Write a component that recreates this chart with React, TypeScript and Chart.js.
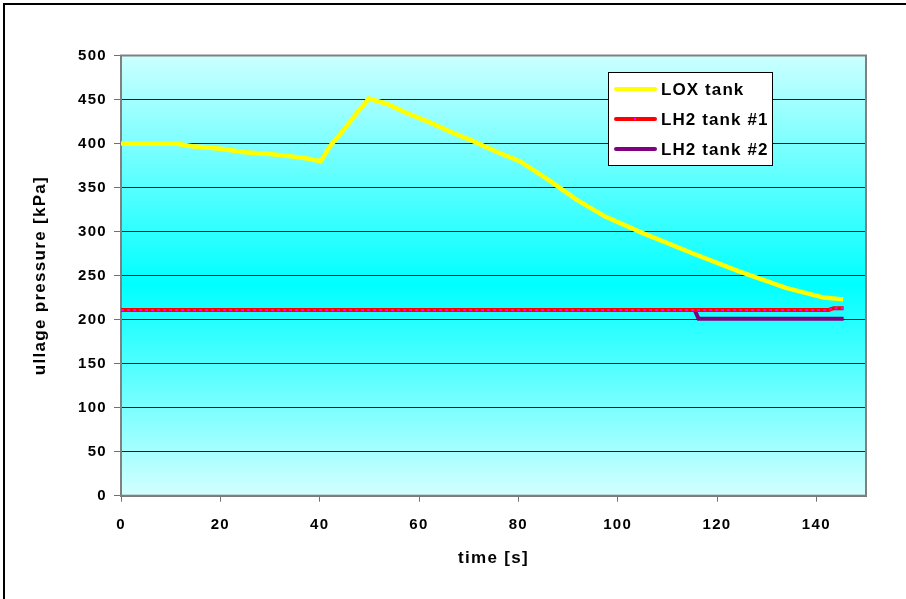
import React, { useEffect, useRef } from 'react';
import { Chart, registerables } from 'chart.js';

Chart.register(...registerables);

// ---- data ----
const loxTime = [0, 11, 14.3, 20.1, 24.9, 30, 33.5, 37.5, 40.2, 42.1, 44.9, 47.8, 49.9, 53.6, 57.4, 62.2, 66.9, 70.8, 75.5, 80.3, 86, 91.8, 97.5, 105.2, 114.8, 124.3, 133.9, 141.5, 145.4];
const loxPressure = [400, 400, 397, 394, 390, 388, 386, 383, 380, 397, 416, 437, 451, 445, 435, 424, 412, 403, 391, 380, 359, 336, 317, 298, 276, 255, 236, 225, 223];

const lh2Tank1Time = [0, 142.5, 143.5, 145.5];
const lh2Tank1Pressure = [211, 211, 213, 213];

const lh2Tank2Time = [0, 115.5, 116.3, 145.5];
const lh2Tank2Pressure = [211, 211, 201, 201];

const xTicks = [0, 20, 40, 60, 80, 100, 120, 140];
const yTicks = [0, 50, 100, 150, 200, 250, 300, 350, 400, 450, 500];

const seriesLabels = ['LOX tank', 'LH2 tank #1', 'LH2 tank #2'];
const seriesColors = ['#ffff00', '#ff0000', '#800080'];
const markerColor = '#ff00ff';

const xTitle = 'time [s]';
const yTitle = 'ullage pressure [kPa]';

const FAMILY = "'Liberation Sans', Arial, sans-serif";
const SPACING = '1.3px';

function toPoints(t: number[], v: number[]) {
  return t.map((x, i) => ({ x, y: v[i] }));
}

const spacingPlugin = {
  id: 'letterSpacing',
  beforeUpdate(chart: any) {
    chart.ctx.letterSpacing = SPACING;
  },
  beforeLayout(chart: any) {
    chart.ctx.letterSpacing = SPACING;
  },
  beforeDraw(chart: any) {
    chart.ctx.letterSpacing = SPACING;
  },
};

const backgroundPlugin = {
  id: 'plotBackground',
  beforeDraw(chart: any) {
    const { ctx, chartArea } = chart;
    const { left, top, right, bottom } = chartArea;
    ctx.save();
    const g = ctx.createLinearGradient(0, top, 0, bottom);
    g.addColorStop(0, '#ccffff');
    g.addColorStop(0.52, '#00ffff');
    g.addColorStop(1, '#d4ffff');
    ctx.fillStyle = g;
    ctx.fillRect(left, top, right - left, bottom - top);
    ctx.restore();
  },
  beforeDatasetsDraw(chart: any) {
    const { ctx, chartArea } = chart;
    const { left, top, right, bottom } = chartArea;
    ctx.save();
    ctx.strokeStyle = '#808080';
    ctx.lineWidth = 2;
    ctx.strokeRect(left, top, right - left, bottom - top);
    ctx.restore();
  },
};

const legendPlugin = {
  id: 'boxLegend',
  afterDraw(chart: any) {
    const ctx = chart.ctx;
    const items = chart.data.datasets.filter((d: any) => !d.hideInLegend);
    const bx = 608.5, by = 72.5, bw = 164, bh = 93;
    ctx.save();
    ctx.fillStyle = '#ffffff';
    ctx.fillRect(bx, by, bw, bh);
    ctx.strokeStyle = '#000000';
    ctx.lineWidth = 1;
    ctx.strokeRect(bx, by, bw, bh);
    ctx.font = `bold 17px ${FAMILY}`;
    ctx.letterSpacing = '1.1px';
    ctx.textBaseline = 'middle';
    ctx.textAlign = 'left';
    items.forEach((d: any, i: number) => {
      const y = 89 + i * 30;
      ctx.strokeStyle = d.borderColor;
      ctx.lineWidth = 4;
      ctx.lineCap = 'round';
      ctx.beginPath();
      ctx.moveTo(616, y);
      ctx.lineTo(655, y);
      ctx.stroke();
      if (d.legendMarker) {
        ctx.fillStyle = d.legendMarker;
        ctx.fillRect(634, y - 1, 2, 2);
      }
      ctx.fillStyle = '#000000';
      ctx.fillText(d.label, 661, y + 1);
    });
    ctx.restore();
  },
};

export default function App() {
  const canvasRef = useRef<HTMLCanvasElement | null>(null);

  useEffect(() => {
    if (!canvasRef.current) return;
    const chart = new Chart(canvasRef.current, {
      type: 'line',
      data: {
        datasets: [
          {
            label: seriesLabels[0],
            data: toPoints(loxTime, loxPressure),
            borderColor: seriesColors[0],
            borderWidth: 4.5,
            pointRadius: 0,
            order: 2,
          } as any,
          {
            label: seriesLabels[1],
            data: toPoints(lh2Tank1Time, lh2Tank1Pressure),
            borderColor: seriesColors[1],
            borderWidth: 4,
            pointRadius: 0,
            order: 1,
            legendMarker: markerColor,
          },
          {
            label: seriesLabels[2],
            data: toPoints(lh2Tank2Time, lh2Tank2Pressure),
            borderColor: seriesColors[2],
            borderWidth: 4,
            pointRadius: 0,
            order: 3,
          },
          {
            label: seriesLabels[1] + ' markers',
            data: toPoints(lh2Tank1Time, lh2Tank1Pressure),
            borderColor: markerColor,
            borderWidth: 2,
            borderDash: [3, 3],
            pointRadius: 0,
            order: 0,
            hideInLegend: true,
          },
        ],
      },
      options: {
        animation: false,
        responsive: false,
        layout: { padding: { top: 55.5, right: 40, left: 0, bottom: 0 } },
        plugins: {
          legend: { display: false },
          tooltip: { enabled: false },
        },
        scales: {
          x: {
            type: 'linear',
            min: 0,
            max: 150,
            afterBuildTicks: (scale: any) => {
              scale.ticks = xTicks.map((v) => ({ value: v }));
            },
            afterFit: (scale: any) => {
              scale.height = 103.3;
            },
            ticks: {
              font: { family: FAMILY, weight: 'bold', size: 15 },
              color: '#000000',
              padding: 14,
              maxRotation: 0,
              autoSkip: false,
            },
            grid: {
              drawOnChartArea: false,
              drawTicks: true,
              tickLength: 6,
              tickColor: '#707070',
              tickWidth: 1,
            },
            border: { display: true, color: '#707070', width: 2 },
            title: {
              display: true,
              text: xTitle,
              color: '#000000',
              font: { family: FAMILY, weight: 'bold', size: 17 },
              padding: { top: 0, bottom: 30.5 },
            },
          },
          y: {
            type: 'linear',
            min: 0,
            max: 500,
            afterBuildTicks: (scale: any) => {
              scale.ticks = yTicks.map((v) => ({ value: v }));
            },
            afterFit: (scale: any) => {
              scale.width = 121;
            },
            ticks: {
              font: { family: FAMILY, weight: 'bold', size: 15 },
              color: '#000000',
              padding: 7,
              autoSkip: false,
            },
            grid: {
              color: '#1a1a1a',
              lineWidth: 1,
              drawTicks: true,
              tickLength: 7,
              tickColor: '#707070',
              tickWidth: 1,
            },
            border: { display: true, color: '#707070', width: 2 },
            title: {
              display: true,
              text: yTitle,
              color: '#000000',
              font: { family: FAMILY, weight: 'bold', size: 17 },
              padding: { top: 29.8, bottom: 0 },
            },
          },
        },
      } as any,
      plugins: [spacingPlugin, backgroundPlugin, legendPlugin],
    });
    return () => chart.destroy();
  }, []);

  return (
    <div style={{ position: 'fixed', left: 0, top: 0, width: 906, height: 599, background: '#ffffff', overflow: 'hidden' }}>
      <canvas ref={canvasRef} width={906} height={599} style={{ display: 'block', width: 906, height: 599 }} />
      <div
        style={{
          position: 'absolute',
          left: 3,
          top: 3,
          width: 910,
          height: 610,
          borderLeft: '2px solid #000',
          borderTop: '2px solid #000',
          pointerEvents: 'none',
        }}
      />
    </div>
  );
}
